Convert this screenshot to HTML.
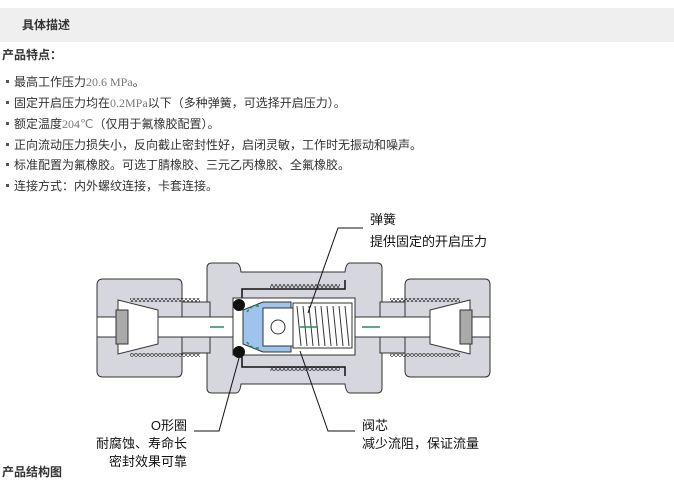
<!DOCTYPE html>
<html><head><meta charset="utf-8"><style>
body{margin:0;width:674px;height:483px;background:#fff;font-family:"Liberation Sans","Noto Sans CJK SC",sans-serif;color:#333;position:relative;overflow:hidden}
.hd{position:absolute;left:0;top:8px;width:674px;height:34px;background:#efefef}
.hd span{position:absolute;left:22px;top:8px;font-size:12px;font-weight:bold;color:#333}
.t{position:absolute;font-size:12px;white-space:nowrap;line-height:14px}
.b{font-weight:bold}
.n{font-family:"Liberation Serif",serif;color:#777}
.sq{display:inline-block;width:3px;height:3px;background:#555;margin:0 5px 2px 6px;vertical-align:middle}
.l{position:absolute;font-size:13px;white-space:nowrap;color:#111;line-height:16px}
</style></head><body>
<div class="hd"><span>具体描述</span></div>
<div class="t b" style="left:2px;top:48px">产品特点：</div>
<div class="t" style="left:0;top:75px"><i class="sq"></i>最高工作压力<span class="n">20.6 MPa</span>。</div>
<div class="t" style="left:0;top:96px"><i class="sq"></i>固定开启压力均在<span class="n">0.2MPa</span>以下（多种弹簧，可选择开启压力）。</div>
<div class="t" style="left:0;top:117px"><i class="sq"></i>额定温度<span class="n">204℃</span>（仅用于氟橡胶配置）。</div>
<div class="t" style="left:0;top:138px"><i class="sq"></i>正向流动压力损失小，反向截止密封性好，启闭灵敏，工作时无振动和噪声。</div>
<div class="t" style="left:0;top:158px"><i class="sq"></i>标准配置为氟橡胶。可选丁腈橡胶、三元乙丙橡胶、全氟橡胶。</div>
<div class="t" style="left:0;top:179px"><i class="sq"></i>连接方式：内外螺纹连接，卡套连接。</div>
<svg style="position:absolute;left:0;top:0" width="674" height="483">
<defs>
<pattern id="zz" width="4" height="4" patternUnits="userSpaceOnUse"><path d="M0 0 L2 4 L4 0" fill="none" stroke="#333" stroke-width="0.8"/></pattern>
</defs>
<g stroke="#333" stroke-width="1" fill="#d6d6de">
<path d="M207 268 q0-5 5-5 h24 q4 0 5 9 h104 q1-9 5-9 h27 q5 0 5 5 v120 q0 5-5 5 h-27 q-4 0-5-9 h-104 q-1 9-5 9 h-24 q-5 0-5-5z"/>
<rect x="180" y="302" width="30" height="51"/>
<rect x="380" y="302" width="30" height="51"/>
<path d="M97 285 q0-6 6-6 h74 q5 0 5 6 v86 q0 6-5 6 h-74 q-6 0-6-6z"/>
<path d="M405 285 q0-6 6-6 h74 q5 0 5 6 v86 q0 6-5 6 h-74 q-6 0-6-6z"/>
</g>
<rect x="130" y="298" width="70" height="4" fill="url(#zz)"/>
<rect x="130" y="353" width="70" height="4" fill="url(#zz)"/>
<rect x="390" y="298" width="70" height="4" fill="url(#zz)"/>
<rect x="390" y="353" width="70" height="4" fill="url(#zz)"/>
<rect x="270" y="284" width="70" height="4" fill="url(#zz)"/>
<rect x="270" y="367" width="70" height="4" fill="url(#zz)"/>
<path d="M242 298 V289 H345 V280" fill="none" stroke="#111" stroke-width="1.5"/>
<path d="M242 357 V367 H345 V376" fill="none" stroke="#111" stroke-width="1.5"/>
<g fill="#fff" stroke="#333">
<rect x="97" y="317" width="393" height="20"/>
<path d="M118 300 l40 10 v34 l-40 10z"/>
<path d="M470 300 l-40 10 v34 l40 10z"/>
<rect x="233" y="298" width="122" height="57"/>
</g>
<rect x="116" y="310" width="12" height="34" fill="#aaa" stroke="#333"/>
<rect x="460" y="310" width="12" height="34" fill="#aaa" stroke="#333"/>
<path d="M243 310 l20-8 h28 v50 h-28 l-20-8z" fill="#9ec4ee" stroke="#333"/>
<rect x="263" y="308" width="30" height="38" fill="#fff" stroke="#333"/>
<circle cx="278" cy="327" r="7" fill="#fff" stroke="#333"/>
<rect x="293" y="303" width="59" height="45" fill="#fff" stroke="#333"/>
<g stroke="#333" fill="none">
<path d="M297 306 l4 40 M303 306 l4 40 M309 306 l4 40 M315 306 l4 40 M321 306 l4 40 M327 306 l4 40 M333 306 l4 40 M339 306 l4 40 M345 306 l4 40"/>
</g>
<circle cx="239" cy="305" r="6" fill="#111"/>
<circle cx="239" cy="352" r="6" fill="#111"/>
<g stroke="#2a8a5a" stroke-width="1.5" fill="none"><path d="M210 327h14 M300 327h18 M362 327h18"/>
<path d="M247 312 q4-6 10-7 M247 342 q4 6 10 7 M256 306 l4 0 M256 348 l4 0" stroke-dasharray="3 2"/></g>
<g stroke="#111" fill="none" stroke-width="1">
<path d="M363 228 h-25 l-30 85"/>
<path d="M194 431 h25 l20-73"/>
<path d="M355 431 h-27 l-28-80"/>
</g>
</svg>
<div class="l" style="left:370px;top:212px">弹簧</div>
<div class="l" style="left:370px;top:234px">提供固定的开启压力</div>
<div class="l" style="left:90px;top:418px;width:97px;text-align:right">O形圈</div>
<div class="l" style="left:40px;top:436px;width:147px;text-align:right">耐腐蚀、寿命长</div>
<div class="l" style="left:40px;top:454px;width:147px;text-align:right">密封效果可靠</div>
<div class="l" style="left:362px;top:418px">阀芯</div>
<div class="l" style="left:362px;top:436px">减少流阻，保证流量</div>
<div class="t b" style="left:2px;top:465px">产品结构图</div>
</body></html>
